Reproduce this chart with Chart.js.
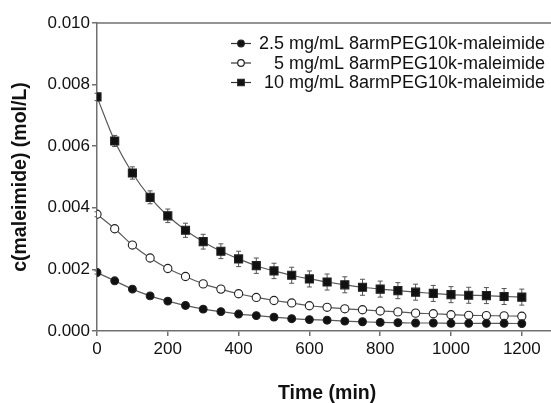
<!DOCTYPE html>
<html>
<head>
<meta charset="utf-8">
<script src="https://cdn.jsdelivr.net/npm/chart.js@4.4.1/dist/chart.umd.min.js"></script>
<style>
html, body { margin: 0; padding: 0; overflow: hidden; background: #fff; }
#wrap { width: 564px; height: 410px; }
</style>
</head>
<body>
<div id="wrap"><canvas id="chart" width="564" height="410"></canvas></div>
<script>
// time points (min)
var times = [0, 50, 100, 150, 200, 250, 300, 350, 400, 450, 500, 550, 600,
             650, 700, 750, 800, 850, 900, 950, 1000, 1050, 1100, 1150, 1200];

// c(maleimide) in mol/L
var conc25 = [0.00190, 0.00163, 0.00136, 0.00114, 0.00097, 0.00083, 0.00071, 0.00063, 0.00055,
              0.00050, 0.00045, 0.00040, 0.00037, 0.00035, 0.00032, 0.00030, 0.00028, 0.00027,
              0.00026, 0.00026, 0.00025, 0.00025, 0.00025, 0.00025, 0.00024];
var conc5 = [0.00379, 0.00332, 0.00279, 0.00237, 0.00203, 0.00177, 0.00153, 0.00136, 0.00121,
             0.00109, 0.00099, 0.00091, 0.00082, 0.00077, 0.00072, 0.00069, 0.00065, 0.00062,
             0.00058, 0.00056, 0.00053, 0.00051, 0.00050, 0.00049, 0.00048];
var conc10 = [0.00760, 0.00617, 0.00513, 0.00434, 0.00374, 0.00327, 0.00290, 0.00259, 0.00234,
              0.00212, 0.00195, 0.00181, 0.00169, 0.00159, 0.00150, 0.00142, 0.00136, 0.00131,
              0.00126, 0.00122, 0.00118, 0.00116, 0.00115, 0.00112, 0.00110];

// standard deviations
var err25 = [0.00005, 0.00005, 0.00005, 0.00005, 0.00005, 0.00005, 0.00005, 0.00005, 0.00005,
             0.00005, 0.00005, 0.00005, 0.00005, 0.00005, 0.00005, 0.00005, 0.00005, 0.00005,
             0.00005, 0.00005, 0.00005, 0.00005, 0.00005, 0.00005, 0.00005];
var err5 = [0.00008, 0.00008, 0.00008, 0.00008, 0.00008, 0.00008, 0.00008, 0.00008, 0.00008,
            0.00008, 0.00008, 0.00008, 0.00008, 0.00008, 0.00008, 0.00008, 0.00008, 0.00008,
            0.00008, 0.00008, 0.00008, 0.00008, 0.00008, 0.00008, 0.00008];
var err10 = [0.00012, 0.00018, 0.00020, 0.00021, 0.00022, 0.00023, 0.00024, 0.00024, 0.00025,
             0.00025, 0.00025, 0.00026, 0.00026, 0.00026, 0.00026, 0.00026, 0.00026, 0.00026,
             0.00026, 0.00026, 0.00026, 0.00026, 0.00026, 0.00026, 0.00026];

var xTicks = [0, 200, 400, 600, 800, 1000, 1200];

var seriesLabels = ['2.5 mg/mL 8armPEG10k-maleimide',
                    '5 mg/mL 8armPEG10k-maleimide',
                    '10 mg/mL 8armPEG10k-maleimide'];

var FONT = "'Liberation Sans', Arial, sans-serif";
var AXIS = '#707070';

function toPoints(ys) {
    return times.map(function (t, i) { return { x: t, y: ys[i] }; });
}

function makeSet(label, ys, errs, style, fill, radius) {
    return {
        label: label,
        data: toPoints(ys),
        errors: errs,
        borderColor: '#5a5a5a',
        borderWidth: 1.2,
        tension: 0.4,
        cubicInterpolationMode: 'monotone',
        pointStyle: style,
        pointRadius: radius,
        pointBackgroundColor: fill,
        pointBorderColor: '#222',
        pointBorderWidth: 1.1,
        fill: false
    };
}

// error bars, drawn under the markers
var errorBars = {
    id: 'errorBars',
    beforeDatasetsDraw: function (chart) {
        var ctx = chart.ctx;
        var xs = chart.scales.x, ys = chart.scales.y;
        ctx.save();
        ctx.strokeStyle = '#555';
        ctx.lineWidth = 1;
        chart.data.datasets.forEach(function (ds) {
            ds.data.forEach(function (p, i) {
                var e = ds.errors[i];
                var px = xs.getPixelForValue(p.x);
                var top = ys.getPixelForValue(p.y + e);
                var bot = ys.getPixelForValue(p.y - e);
                ctx.beginPath();
                ctx.moveTo(px, top); ctx.lineTo(px, bot);
                ctx.moveTo(px - 2.5, top); ctx.lineTo(px + 2.5, top);
                ctx.moveTo(px - 2.5, bot); ctx.lineTo(px + 2.5, bot);
                ctx.stroke();
            });
        });
        ctx.restore();
    }
};

// top frame line + legend inside the plot
var frameAndLegend = {
    id: 'frameAndLegend',
    afterDraw: function (chart) {
        var ctx = chart.ctx;
        var a = chart.chartArea;
        ctx.save();
        ctx.strokeStyle = AXIS;
        ctx.lineWidth = 1.5;
        ctx.beginPath();
        ctx.moveTo(a.left, a.top);
        ctx.lineTo(a.right + 10, a.top);
        ctx.stroke();

        var rows = [43.5, 63, 82.5];
        var textRight = 545, lineL = 231, lineR = 251, mx = 241;
        chart.data.datasets.forEach(function (ds, i) {
            var y = rows[i];
            ctx.strokeStyle = '#333';
            ctx.lineWidth = 1.2;
            ctx.beginPath();
            ctx.moveTo(lineL, y); ctx.lineTo(lineR, y);
            ctx.stroke();
            ctx.fillStyle = ds.pointBackgroundColor;
            ctx.strokeStyle = '#222';
            Chart.helpers.drawPoint(ctx, { pointStyle: ds.pointStyle, radius: ds.pointStyle === 'rect' ? 4.6 : 3.3, borderWidth: 1 }, mx, y);
            ctx.fillStyle = '#111';
            ctx.font = '18px ' + FONT;
            ctx.textAlign = 'right';
            ctx.textBaseline = 'middle';
            ctx.fillText(ds.label, textRight, y + 1);
        });
        ctx.restore();
    }
};

var ctx = document.getElementById('chart').getContext('2d');
var chart = new Chart(ctx, {
    type: 'line',
    data: {
        datasets: [
            makeSet(seriesLabels[0], conc25, err25, 'circle', '#111', 3.9),
            makeSet(seriesLabels[1], conc5, err5, 'circle', '#fff', 4.1),
            makeSet(seriesLabels[2], conc10, err10, 'rect', '#111', 5.7)
        ]
    },
    options: {
        responsive: false,
        animation: false,
        devicePixelRatio: 1,
        layout: { padding: { top: 23, left: 0, right: 0, bottom: 0 } },
        plugins: {
            legend: { display: false },
            tooltip: { enabled: false }
        },
        scales: {
            x: {
                type: 'linear',
                min: 0,
                max: 1300,
                afterBuildTicks: function (s) {
                    s.ticks = xTicks.map(function (v) { return { value: v }; });
                },
                afterFit: function (s) { s.height = 79; },
                ticks: {
                    autoSkip: false,
                    maxRotation: 0,
                    padding: 3,
                    color: '#111',
                    font: { family: FONT, size: 17 },
                    callback: function (v) { return String(v); }
                },
                grid: { drawOnChartArea: false, color: AXIS, tickLength: 5, lineWidth: 1.5 },
                border: { color: AXIS, width: 1.5 },
                title: {
                    display: true,
                    text: 'Time (min)',
                    color: '#111',
                    font: { family: FONT, size: 19.5, weight: 'bold' },
                    padding: { top: 0, bottom: 5 }
                }
            },
            y: {
                min: 0,
                max: 0.010,
                afterFit: function (s) { s.width = 97; },
                ticks: {
                    stepSize: 0.002,
                    padding: 2,
                    color: '#111',
                    font: { family: FONT, size: 17 },
                    callback: function (v) { return v.toFixed(3); }
                },
                grid: { drawOnChartArea: false, color: AXIS, tickLength: 5, lineWidth: 1.5 },
                border: { color: AXIS, width: 1.5 },
                title: {
                    display: true,
                    text: 'c(maleimide) (mol/L)',
                    color: '#111',
                    font: { family: FONT, size: 19.5, weight: 'bold' },
                    padding: { top: 9, bottom: 0 }
                }
            }
        }
    },
    plugins: [errorBars, frameAndLegend]
});
</script>
</body>
</html>
